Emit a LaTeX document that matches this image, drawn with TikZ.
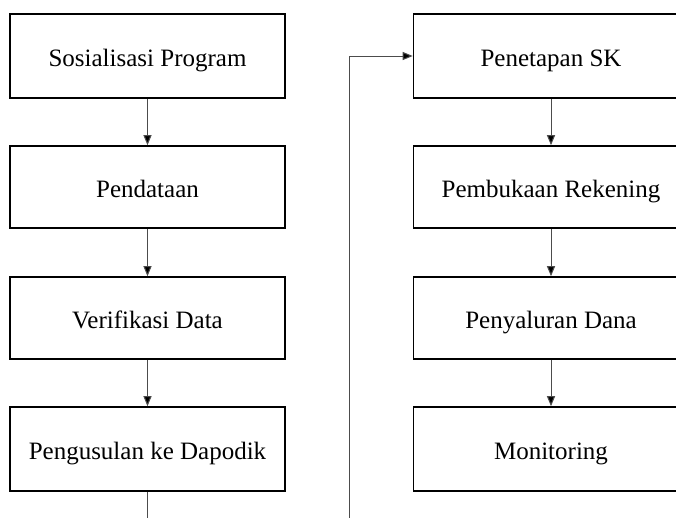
\documentclass[tikz,border=0pt]{standalone}
\usepackage{fontspec}
\setmainfont{Liberation Serif}
\usetikzlibrary{arrows.meta}
\begin{document}
\begin{tikzpicture}[x=1pt,y=-1pt,
  box/.style={draw=black, line width=1.6pt, minimum width=275pt, inner sep=0pt, text height=21pt, text depth=0pt, font=\fontsize{25}{28}\selectfont},
  conn/.style={draw=black!70, line width=1pt, -{Triangle[length=10pt,width=8pt,fill=black]}}]
\useasboundingbox (0,0) rectangle (676,517);
\clip (0,0) rectangle (676,517);
\node[box, minimum height=84pt] (l1) at (147.5,56) {Sosialisasi Program};
\node[box, minimum height=82pt] (l2) at (147.5,187) {Pendataan};
\node[box, minimum height=82pt] (l3) at (147.5,318) {Verifikasi Data};
\node[box, minimum height=84pt] (l4) at (147.5,449) {Pengusulan ke Dapodik};
\node[box, minimum height=84pt] (r1) at (551,56) {Penetapan SK};
\node[box, minimum height=82pt] (r2) at (551,187) {Pembukaan Rekening};
\node[box, minimum height=82pt] (r3) at (551,318) {Penyaluran Dana};
\node[box, minimum height=84pt] (r4) at (551,449) {Monitoring};
\coordinate (down) at (147.5,560);
\coordinate (up) at (349,560);
\draw[conn] (l1) -- (l2);
\draw[conn] (l2) -- (l3);
\draw[conn] (l3) -- (l4);
\draw[conn] (r1) -- (r2);
\draw[conn] (r2) -- (r3);
\draw[conn] (r3) -- (r4);
\draw[conn] (l4.south) -- (down) -- (up) |- (r1.west);
\end{tikzpicture}
\end{document}
